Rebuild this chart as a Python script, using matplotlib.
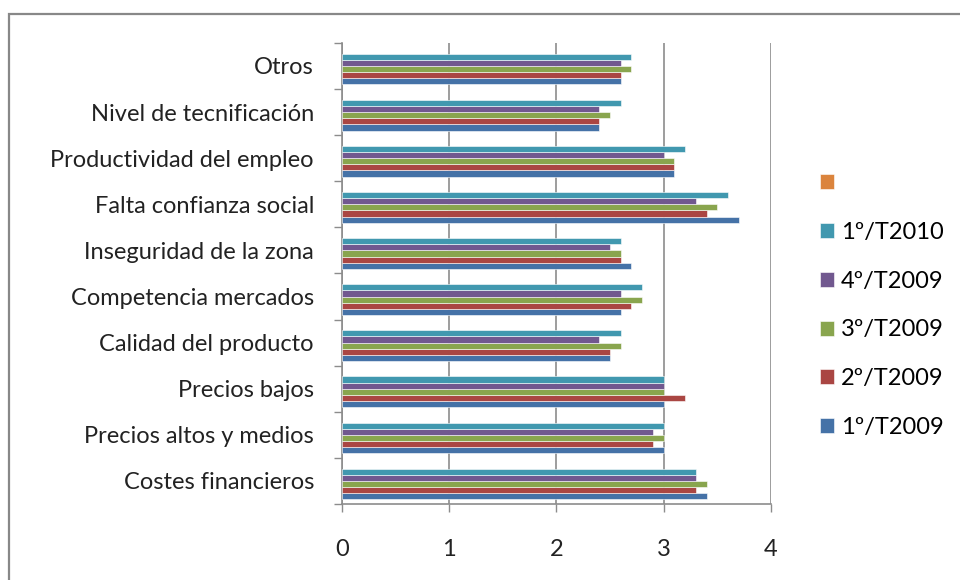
import numpy as np
import matplotlib
matplotlib.use("Agg")
from matplotlib import pyplot as plt
from matplotlib.patches import Patch, Rectangle

plt.rcParams['font.family'] = ['Lato', 'DejaVu Sans']

# categories from bottom to top
categories = ["Costes financieros", "Precios altos y medios", "Precios bajos",
              "Calidad del producto", "Competencia mercados", "Inseguridad de la zona",
              "Falta confianza social", "Productividad del empleo",
              "Nivel de tecnificación", "Otros"]

t1_2009 = [3.4, 3.0, 3.0, 2.5, 2.6, 2.7, 3.7, 3.1, 2.4, 2.6]
t2_2009 = [3.3, 2.9, 3.2, 2.5, 2.7, 2.6, 3.4, 3.1, 2.4, 2.6]
t3_2009 = [3.4, 3.0, 3.0, 2.6, 2.8, 2.6, 3.5, 3.1, 2.5, 2.7]
t4_2009 = [3.3, 2.9, 3.0, 2.4, 2.6, 2.5, 3.3, 3.0, 2.4, 2.6]
t1_2010 = [3.3, 3.0, 3.0, 2.6, 2.8, 2.6, 3.6, 3.2, 2.6, 2.7]

series = [t1_2009, t2_2009, t3_2009, t4_2009, t1_2010]
labels = ["1º/T2009", "2º/T2009", "3º/T2009", "4º/T2009", "1º/T2010", ""]
colors = ["#4572A7", "#AA4643", "#89A54E", "#71588F", "#4198AF", "#DB843D"]

x_ticks = [0, 1, 2, 3, 4]

FS = 17

fig = plt.figure(figsize=(9.6, 5.8), dpi=100)
ax = fig.add_axes([0.356, 0.131, 0.447, 0.795])

n_slots = 6
bar_h = 0.8 / n_slots
y = np.arange(len(categories))
for j, vals in enumerate(series):
    off = -0.4 + (j + 0.5) * bar_h
    ax.barh(y + off, vals, height=bar_h, color=colors[j],
            edgecolor="white", linewidth=0.4, zorder=3)

ax.set_xlim(0, 4)
ax.set_ylim(-0.5, len(categories) - 0.5)
ax.set_xticks(x_ticks)
ax.set_xticklabels([str(v) for v in x_ticks], fontsize=FS)
ax.set_yticks(y)
ax.set_yticklabels(categories, fontsize=FS)
ax.set_yticks(np.arange(-0.5, len(categories), 1), minor=True)

ax.grid(axis="x", color="#8c8c8c", linewidth=1.2, zorder=0)
ax.tick_params(axis="y", which="major", length=0, pad=20, colors="#222222")
ax.tick_params(axis="y", which="minor", length=6, width=1, color="#8c8c8c", direction="out")
ax.tick_params(axis="x", length=6, width=1, direction="out", pad=19, colors="#222222")
ax.tick_params(axis="x", color="#8c8c8c")
for side in ["top", "right"]:
    ax.spines[side].set_visible(False)
for side in ["left", "bottom"]:
    ax.spines[side].set_color("#8c8c8c")
    ax.spines[side].set_linewidth(1.2)

# legend, reversed order like the original
handles = [Patch(facecolor=colors[j], edgecolor="white", linewidth=0.4) for j in range(n_slots)][::-1]
fig.legend(handles, labels[::-1], loc="upper left", bbox_to_anchor=(0.854, 0.702),
           frameon=False, fontsize=FS, handlelength=0.6, handleheight=0.6,
           handletextpad=0.3, labelspacing=1.18, borderaxespad=0, borderpad=0)

# outer chart frame
fig.patches.append(Rectangle((9 / 960, -0.1), 1.2, 1 - 14 / 580 + 0.1,
                             transform=fig.transFigure, fill=False,
                             edgecolor="#888888", linewidth=1.6))

fig.savefig("out.png", dpi=100)
